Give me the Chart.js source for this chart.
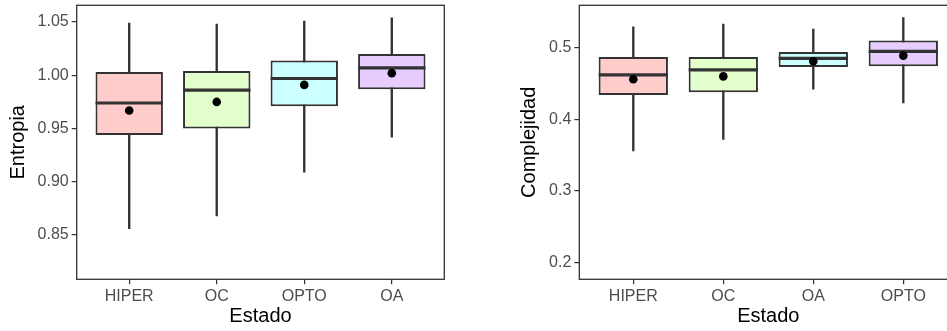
<!DOCTYPE html>
<html>
<head>
<meta charset="utf-8">
<script src="https://cdn.jsdelivr.net/npm/chart.js@4.4.1/dist/chart.umd.min.js"></script>
<style>
  html, body { margin: 0; padding: 0; background: #fff; overflow: hidden; width: 947px; height: 331px; }
  .panel { position: absolute; top: 0; height: 331px; }
  #izq { left: 0; width: 460px; }
  #der { left: 480px; width: 490px; }
</style>
</head>
<body>
<div class="panel" id="izq"><canvas id="chartEntropia"></canvas></div>
<div class="panel" id="der"><canvas id="chartComplejidad"></canvas></div>
<script>
// Panel izquierdo: Entropia
const estadosEnt = ['HIPER', 'OC', 'OPTO', 'OA'];
const entMin  = [0.856, 0.868, 0.909, 0.942];
const entQ1   = [0.944, 0.950, 0.971, 0.987];
const entMed  = [0.974, 0.986, 0.997, 1.007];
const entQ3   = [1.003, 1.004, 1.014, 1.020];
const entMax  = [1.049, 1.048, 1.051, 1.054];
const entMean = [0.967, 0.975, 0.991, 1.002];
const entTicks = [0.85, 0.90, 0.95, 1.00, 1.05];

// Panel derecho: Complejidad
const estadosCom = ['HIPER', 'OC', 'OA', 'OPTO'];
const comMin  = [0.356, 0.372, 0.442, 0.423];
const comQ1   = [0.434, 0.438, 0.473, 0.474];
const comMed  = [0.462, 0.469, 0.485, 0.495];
const comQ3   = [0.487, 0.487, 0.494, 0.510];
const comMax  = [0.529, 0.533, 0.526, 0.542];
const comMean = [0.456, 0.460, 0.481, 0.489];
const comTicks = [0.2, 0.3, 0.4, 0.5];

const rellenos = ['#FFCCCC', '#E2FFCC', '#CCFFFF', '#E6CCFF'];
const gris = '#333333';
const fuente = "'Liberation Sans', Arial, sans-serif";

// median lines, drawn right after the boxes
const medianPlugin = {
  id: 'medianas',
  afterDatasetDraw(chart, args, opts) {
    if (args.index !== 1) return;
    const ctx = chart.ctx;
    const y = chart.scales.y;
    ctx.save();
    ctx.strokeStyle = gris;
    ctx.lineWidth = 3.2;
    args.meta.data.forEach((bar, i) => {
      const py = y.getPixelForValue(opts.values[i]);
      ctx.beginPath();
      ctx.moveTo(bar.x - bar.width / 2, py);
      ctx.lineTo(bar.x + bar.width / 2, py);
      ctx.stroke();
    });
    ctx.restore();
  }
};

// panel border
const framePlugin = {
  id: 'marco',
  afterDraw(chart) {
    const a = chart.chartArea;
    const ctx = chart.ctx;
    ctx.save();
    ctx.strokeStyle = gris;
    ctx.lineWidth = 1.3;
    ctx.strokeRect(a.left, a.top, a.right - a.left, a.bottom - a.top);
    ctx.restore();
  }
};

function makeBoxChart(id, cats, mins, q1s, meds, q3s, maxs, means, yMin, yMax, yTicks, dec, yTitle, lay) {
  const ctx = document.getElementById(id).getContext('2d');
  return new Chart(ctx, {
    data: {
      datasets: [
        {
          type: 'bar',
          data: cats.map((c, i) => ({ x: i + 1, y: [mins[i], maxs[i]] })),
          backgroundColor: gris,
          borderWidth: 0,
          barThickness: 1.7,
          grouped: false,
          order: 3
        },
        {
          type: 'bar',
          data: cats.map((c, i) => ({ x: i + 1, y: [q1s[i], q3s[i]] })),
          backgroundColor: rellenos,
          borderColor: gris,
          borderWidth: 2,
          borderSkipped: false,
          categoryPercentage: 1,
          barPercentage: 0.77,
          grouped: false,
          order: 2
        },
        {
          type: 'scatter',
          data: cats.map((c, i) => ({ x: i + 1, y: means[i] })),
          backgroundColor: '#000',
          borderWidth: 0,
          pointRadius: 4.3,
          order: 0
        }
      ]
    },
    options: {
      responsive: true,
      maintainAspectRatio: false,
      animation: false,
      layout: { padding: { left: 0, right: lay.padRight, top: 5.3, bottom: 0 } },
      plugins: {
        legend: { display: false },
        tooltip: { enabled: false },
        medianas: { values: meds }
      },
      scales: {
        x: {
          type: 'linear',
          offset: false,
          min: 0.4,
          max: cats.length + 0.6,
          afterBuildTicks: s => { s.ticks = cats.map((c, i) => ({ value: i + 1 })); },
          afterFit: s => { s.height = 51.7; s.paddingLeft = 0; s.paddingRight = 0; },
          ticks: {
            callback: v => cats[v - 1],
            color: '#4D4D4D',
            font: { family: fuente, size: 16 },
            padding: 2.5,
            maxRotation: 0,
            autoSkip: false
          },
          grid: { offset: false, drawOnChartArea: false, drawTicks: true, tickLength: 5, color: gris, lineWidth: 1.2 },
          border: { display: false },
          title: {
            display: true, text: 'Estado', color: '#000',
            font: { family: fuente, size: 20 },
            padding: { top: 0, bottom: 3 }
          }
        },
        y: {
          min: yMin,
          max: yMax,
          afterBuildTicks: s => { s.ticks = yTicks.map(v => ({ value: v })); },
          afterFit: s => { s.width = lay.yWidth; s.paddingTop = 0; s.paddingBottom = 0; },
          ticks: {
            callback: v => v.toFixed(dec),
            color: '#4D4D4D',
            font: { family: fuente, size: 16 },
            padding: 3
          },
          grid: { drawOnChartArea: false, drawTicks: true, tickLength: 5, color: gris, lineWidth: 1.2 },
          border: { display: false },
          title: {
            display: true, text: yTitle, color: '#000',
            font: { family: fuente, size: 20 },
            padding: { top: lay.titlePad, bottom: 0 }
          }
        }
      }
    },
    plugins: [medianPlugin, framePlugin]
  });
}

makeBoxChart('chartEntropia', estadosEnt, entMin, entQ1, entMed, entQ3, entMax, entMean,
  0.8085, 1.0657, entTicks, 2, 'Entropia', { yWidth: 76.7, padRight: 15.7, titlePad: 6.5 });

makeBoxChart('chartComplejidad', estadosCom, comMin, comQ1, comMed, comQ3, comMax, comMean,
  0.1768, 0.5592, comTicks, 1, 'Complejidad', { yWidth: 99.3, padRight: 12.7, titlePad: 37.5 });
</script>
</body>
</html>
